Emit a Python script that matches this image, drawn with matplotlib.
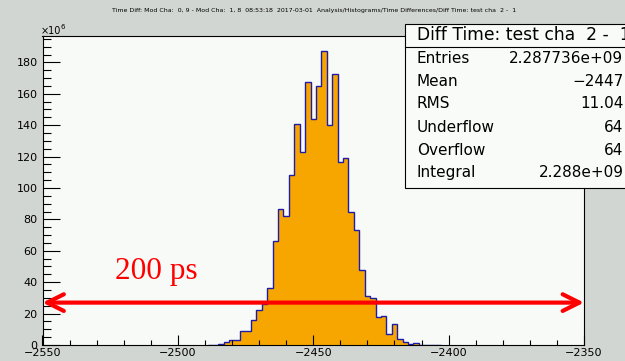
import numpy as np
import matplotlib.pyplot as plt
from matplotlib.patches import Rectangle
from matplotlib.ticker import MultipleLocator

# histogram contents (x 10^6 counts), 2 ps bins starting at -2489
bin_start = -2489
bin_width = 2
counts = [0.3, 0.3, 0.4, 1.8, 3.0, 3.0, 9.1, 9.1, 16.2, 22.1,
          26.0, 36.0, 66.2, 86.6, 82.1, 108.0, 140.5, 123.1, 167.2, 143.9,
          164.9, 187.3, 140.1, 172.3, 116.5, 118.8, 85.0, 73.0, 47.7, 31.3,
          29.7, 18.0, 18.5, 7.2, 13.4, 3.6, 1.8, 0.7, 1.0, 0.3,
          0.3, 0.0, 0.3]

x_range = (-2550, -2350)
y_max = 196.8
arrow_y = 27

title = ("Time Diff: Mod Cha:  0, 9 - Mod Cha:  1, 8  08:53:18  2017-03-01  "
         "Analysis/Histograms/Time Differences/Diff Time: test cha  2 -  1")
stats_title = "Diff Time: test cha  2 -  1"
stats_names = ["Entries", "Mean", "RMS", "Underflow", "Overflow", "Integral"]
stats_values = ["2.287736e+09", "\u22122447", "11.04", "64", "64", "2.288e+09"]

W, H = 625, 361
fig = plt.figure(figsize=(W / 100, H / 100), dpi=100, facecolor='#d2d6d2')


def fx(px):
    return px / W


def fy(py):
    return 1 - py / H


ax = fig.add_axes([fx(42.5), fy(345), (584 - 42.5) / W, (345 - 36) / H])
ax.set_facecolor('#f7faf7')

edges = bin_start + bin_width * np.arange(len(counts) + 1)
ax.stairs(counts, edges, fill=True, color='#f7a600', baseline=0)
ax.stairs(counts, edges, color='#1c1ca8', lw=1.0, baseline=0)

ax.set_xlim(*x_range)
ax.set_ylim(0, y_max)
ax.set_xticks(np.arange(x_range[0], x_range[1] + 1, 50))
ax.xaxis.set_minor_locator(MultipleLocator(10))
ax.set_yticks(np.arange(0, 181, 20))
ax.yaxis.set_minor_locator(MultipleLocator(5))
ax.tick_params(axis='both', which='both', direction='in', width=0.8,
               top=False, right=False, labelsize=8, colors='black')
ax.tick_params(axis='x', which='major', length=7.2, pad=2.5)
ax.tick_params(axis='x', which='minor', length=3.6)
ax.tick_params(axis='y', which='major', length=12.2, pad=3.5)
ax.tick_params(axis='y', which='minor', length=6)
for s in ax.spines.values():
    s.set_linewidth(0.8)

# x10^6 exponent
fig.text(fx(40.5), fy(34), "\u00d710", fontsize=7, va='baseline')
fig.text(fx(60.5), fy(29), "6", fontsize=5, va='baseline')

# 200 ps annotation
ax.annotate('', xy=(x_range[1], arrow_y), xytext=(x_range[0], arrow_y),
            arrowprops=dict(arrowstyle='<->,head_length=12,head_width=6',
                            mutation_scale=1, color='#ff0000', lw=3,
                            shrinkA=0, shrinkB=0),
            annotation_clip=False)
ax.text(-2523.4, 42, "200 ps", color='#ff0000', fontsize=22.5,
        family='Liberation Serif', va='baseline')

fig.text(fx(314), fy(10.7), title, fontsize=4.5, ha='center', va='center')

# stats box
fig.patches.append(Rectangle((fx(405), fy(187.5)), (640 - 405) / W,
                             (187.5 - 24) / H, transform=fig.transFigure,
                             facecolor='#f9fbf9', edgecolor='black', lw=0.8,
                             zorder=5))
fig.add_artist(plt.Line2D([fx(405), fx(640)], [fy(46.7), fy(46.7)],
                          transform=fig.transFigure, color='black', lw=0.8,
                          zorder=6))
fig.text(fx(416.7), fy(35.5), stats_title, fontsize=12.3, va='center',
         zorder=7)
row_y = [58.3, 81.7, 103.5, 127.5, 150.5, 172.3]
for name, val, yy in zip(stats_names, stats_values, row_y):
    fig.text(fx(416.7), fy(yy), name, fontsize=11, va='center', zorder=7)
    fig.text(fx(623.5), fy(yy), val, fontsize=11, va='center', ha='right',
             zorder=7)

fig.savefig('out.png', dpi=100, facecolor=fig.get_facecolor())
